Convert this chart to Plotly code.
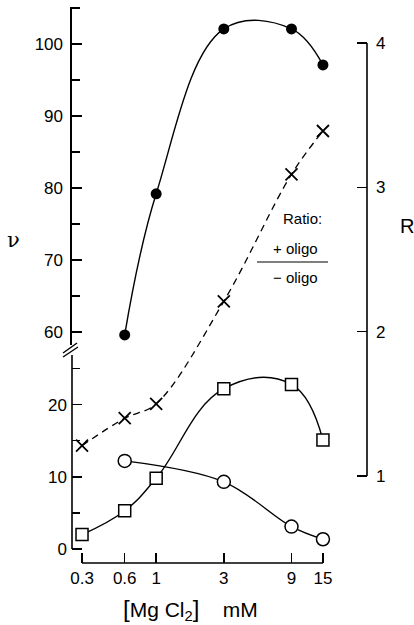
import math
import plotly.graph_objects as go

# ---------------- data ----------------
filled_x = [0.6, 1, 3, 9, 15]
filled_nu = [59.6, 79.2, 102.1, 102.1, 97.1]

ratio_x = [0.3, 0.6, 1, 3, 9, 15]
ratio_R = [1.21, 1.40, 1.50, 2.21, 3.09, 3.39]

open_x = [0.6, 3, 9, 15]
open_nu = [12.2, 9.3, 3.1, 1.35]

square_x = [0.3, 0.6, 1, 3, 9, 15]
square_nu = [2.0, 5.3, 9.8, 22.2, 22.8, 15.1]

x_ticks = [0.3, 0.6, 1, 3, 9, 15]
x_tick_text = ["0.3", "0.6", "1", "3", "9", "15"]
low_ticks = [0, 10, 20]
low_minor = [5, 15, 25]
up_ticks = [60, 70, 80, 90, 100]
up_minor = [65, 75, 85, 95, 105]
r_ticks = [1, 2, 3, 4]

# ---------------- layout constants ----------------
X_RANGE = [-0.5935, 1.4867]
LOW_RANGE = [-1.94, 26.87]
UP_RANGE = [58.2, 105.14]
R_RANGE = [0.397, 4.249]
LOW_DOM = [0, 0.3741]
UP_DOM = [0.3921, 1]
FONT = "Liberation Sans"
BLACK = "black"


def xpaper(v):
    return (math.log10(v) - X_RANGE[0]) / (X_RANGE[1] - X_RANGE[0])


fig = go.Figure()

fig.add_trace(go.Scatter(
    x=filled_x, y=filled_nu, xaxis="x", yaxis="y2", mode="lines+markers",
    line=dict(color=BLACK, width=1.4, shape="spline", smoothing=1.1),
    marker=dict(symbol="circle", size=11, color=BLACK),
    showlegend=False, cliponaxis=False))

fig.add_trace(go.Scatter(
    x=ratio_x, y=ratio_R, xaxis="x", yaxis="y3", mode="lines+markers",
    line=dict(color=BLACK, width=1.3, dash="7px,5px", shape="spline", smoothing=1),
    marker=dict(symbol="x-thin", size=12, line=dict(width=1.8, color=BLACK)),
    showlegend=False, cliponaxis=False))

fig.add_trace(go.Scatter(
    x=open_x, y=open_nu, xaxis="x", yaxis="y", mode="lines+markers",
    line=dict(color=BLACK, width=1.4, shape="spline", smoothing=1),
    marker=dict(symbol="circle", size=13, color="white", line=dict(width=1.5, color=BLACK)),
    showlegend=False, cliponaxis=False))

fig.add_trace(go.Scatter(
    x=square_x, y=square_nu, xaxis="x", yaxis="y", mode="lines+markers",
    line=dict(color=BLACK, width=1.4, shape="spline", smoothing=1.2),
    marker=dict(symbol="square", size=12, color="white", line=dict(width=1.5, color=BLACK)),
    showlegend=False, cliponaxis=False))

tickfont = dict(family=FONT, size=17, color=BLACK)
common = dict(showgrid=False, zeroline=False, ticks="inside", ticklen=10,
              tickwidth=1.5, tickcolor=BLACK, tickfont=tickfont)

fig.update_layout(
    width=414, height=625,
    margin=dict(l=72, r=47, t=7, b=62),
    paper_bgcolor="white", plot_bgcolor="rgba(0,0,0,0)",
    hovermode=False,
    xaxis=dict(type="log", range=X_RANGE, domain=[0, 1], anchor="y",
               tickvals=x_ticks, ticktext=x_tick_text, showline=False,
               ticklabelstandoff=3, **common),
    yaxis=dict(domain=LOW_DOM, range=LOW_RANGE, anchor="x", tickvals=low_ticks,
               showline=False, ticklabelstandoff=4,
               minor=dict(tickvals=low_minor, ticks="inside", ticklen=8,
                          tickwidth=1.5, tickcolor=BLACK),
               **common),
    yaxis2=dict(domain=UP_DOM, range=UP_RANGE, anchor="x", tickvals=up_ticks,
                showline=True, linewidth=1.6, linecolor=BLACK, ticklabelstandoff=4,
                minor=dict(tickvals=up_minor, ticks="inside", ticklen=8,
                           tickwidth=1.5, tickcolor=BLACK),
                **common),
    yaxis3=dict(domain=[0, 1], range=R_RANGE, anchor="x", side="right",
                tickvals=r_ticks, showline=False, ticklabelstandoff=8, **common),
)

shapes = []
# lower left axis line (0 .. top of lower segment)
shapes.append(dict(type="line", xref="paper", yref="y", x0=0, x1=0,
                   y0=0, y1=LOW_RANGE[1], line=dict(color=BLACK, width=1.6)))
# x axis line from 0.3 to 15
shapes.append(dict(type="line", xref="paper", yref="paper",
                   x0=xpaper(x_ticks[0]), x1=xpaper(x_ticks[-1]), y0=0, y1=0,
                   line=dict(color=BLACK, width=1.6)))
# right axis line (R 1..4)
shapes.append(dict(type="line", xref="paper", yref="y3", x0=1, x1=1,
                   y0=r_ticks[0], y1=r_ticks[-1], line=dict(color=BLACK, width=1.6)))
# axis break marks
shapes.append(dict(type="line", xref="paper", yref="paper",
                   x0=-0.0305, x1=0.0170, y0=0.3777, y1=0.3957,
                   line=dict(color=BLACK, width=1.4)))
shapes.append(dict(type="line", xref="paper", yref="paper",
                   x0=-0.0305, x1=0.0203, y0=0.3705, y1=0.3885,
                   line=dict(color=BLACK, width=1.4)))
# fraction bar
shapes.append(dict(type="line", xref="paper", yref="paper", x0=0.627, x1=0.868,
                   y0=0.5414, y1=0.5414, line=dict(color=BLACK, width=1.2)))
fig.update_layout(shapes=shapes)

ann_font = dict(family=FONT, size=15, color=BLACK)
base = dict(xref="paper", yref="paper", showarrow=False, xanchor="center", yanchor="middle")
annotations = [
    dict(text="Ratio:", x=0.783, y=0.619, font=ann_font, **base),
    dict(text="+ oligo", x=0.756, y=0.5665, font=ann_font, **base),
    dict(text="\u2212 oligo", x=0.756, y=0.5126, font=ann_font, **base),
    dict(text="\u03bd", x=-0.197, y=0.581,
         font=dict(family="DejaVu Serif", size=21, color=BLACK), **base),
    dict(text="R", x=1.136, y=0.606, font=dict(family=FONT, size=20, color=BLACK), **base),
    dict(text="<span style='font-size:24px'>[</span>Mg Cl<sub>2</sub>"
              "<span style='font-size:24px'>]</span>&nbsp;&nbsp;&nbsp;&nbsp;mM",
         x=0.402, y=-0.0845, font=dict(family=FONT, size=21, color=BLACK), **base),
]
fig.update_layout(annotations=annotations)

# remove the browser's default 8px page margin so the 414x625 figure fills the window exactly
fig.write_html("out.html",
               config={"displayModeBar": False, "staticPlot": True},
               post_script="document.body.style.margin='0';document.body.style.overflow='hidden';")
